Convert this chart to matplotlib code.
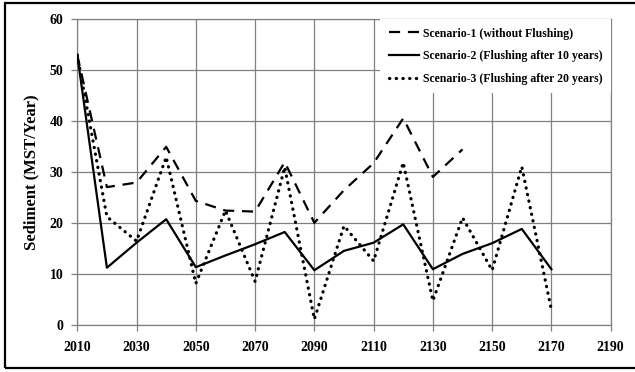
"""Sediment load per decade under three flushing scenarios (line chart)."""
import matplotlib
matplotlib.use("Agg")
import matplotlib.pyplot as plt
from matplotlib.patches import Rectangle

years = [2010, 2020, 2030, 2040, 2050, 2060, 2070, 2080, 2090,
         2100, 2110, 2120, 2130, 2140, 2150, 2160, 2170]

# Scenario-1 only runs to 2140
s1_years = years[:14]
s1 = [53.0, 27.1, 28.0, 35.0, 24.4, 22.5, 22.3, 32.0, 20.1,
      26.5, 31.8, 40.6, 29.1, 34.5]
s2 = [53.0, 11.3, 16.2, 20.8, 11.4, 13.7, 15.9, 18.3, 10.8,
      14.6, 16.2, 19.8, 11.0, 14.0, 16.1, 18.9, 11.0]
s3 = [53.0, 21.3, 16.5, 33.0, 8.2, 22.5, 8.6, 31.0, 1.2,
      19.5, 12.6, 31.9, 4.8, 21.1, 10.8, 31.1, 3.0]

labels = ["Scenario-1 (without Flushing)",
          "Scenario-2 (Flushing after 10 years)",
          "Scenario-3 (Flushing after 20 years)"]

x_ticks = list(range(2010, 2191, 20))
y_ticks = list(range(0, 61, 10))

SERIF = ["Liberation Serif", "DejaVu Serif"]
GRID = "#808080"


def main():
    plt.rcParams["font.family"] = SERIF
    plt.rcParams["font.weight"] = "bold"

    fig = plt.figure(figsize=(6.35, 3.72), dpi=100)
    ax = fig.add_axes([0.1217, 0.1255, 0.84, 0.8225])

    ax.plot(s1_years, s1, color="black", lw=1.6, ls=(0, (5, 3.5)),
            label=labels[0], zorder=3)
    ax.plot(years, s2, color="black", lw=1.6, ls="-",
            label=labels[1], zorder=3)
    ax.plot(years, s3, color="black", lw=2.3, ls=(0, (0.1, 2.0)),
            dash_capstyle="round", label=labels[2], zorder=3)

    ax.set_xlim(2010, 2190)
    ax.set_ylim(0, 60)
    ax.set_xticks(x_ticks)
    ax.set_yticks(y_ticks)
    ax.grid(True, color=GRID, lw=0.9, zorder=1)
    for sp in ax.spines.values():
        sp.set_color(GRID)
        sp.set_linewidth(0.9)
    ax.tick_params(axis="both", colors=GRID, length=4, width=0.9,
                   labelcolor="black", labelsize=10)
    ax.tick_params(axis="x", pad=7)
    ax.tick_params(axis="y", pad=6)
    for t in ax.get_xticklabels() + ax.get_yticklabels():
        t.set_fontweight("bold")

    ax.set_ylabel("Sediment (MST/Year)", fontsize=12, fontweight="bold",
                  labelpad=7)

    leg = ax.legend(loc="upper right", bbox_to_anchor=(1.0, 1.0),
                    fontsize=8.5, frameon=True, fancybox=False,
                    handlelength=2.6, handletextpad=0.3, labelspacing=0.9,
                    borderpad=0.7, borderaxespad=0.0)
    leg.get_frame().set_facecolor("white")
    leg.get_frame().set_edgecolor("none")
    leg.get_frame().set_alpha(1.0)
    for t in leg.get_texts():
        t.set_fontweight("bold")

    # thick outer frame, right edge falls outside the image
    fig.patches.append(Rectangle((5 / 635, 4 / 372), 1.0, 365 / 372,
                                 transform=fig.transFigure, fill=False,
                                 ec="black", lw=1.6))

    fig.savefig("out.png", dpi=100)
    plt.close(fig)


if __name__ == "__main__":
    main()
